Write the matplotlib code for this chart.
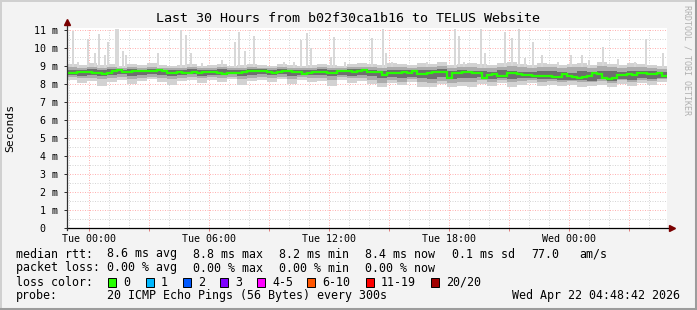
import matplotlib
matplotlib.use("Agg")
import matplotlib.pyplot as plt
import numpy as np
from matplotlib.patches import Rectangle
from matplotlib.lines import Line2D

W, H = 697, 310
MONO = "DejaVu Sans Mono"

# hours relative to Tue 00:00, one bin per 15 min for the median
t_start = -1.1
median_ms = [
    8.63, 8.63, 8.65, 8.68, 8.66, 8.63, 8.62, 8.57, 8.58, 8.72,
    8.78, 8.66, 8.68, 8.72, 8.71, 8.70, 8.69, 8.70, 8.78, 8.70,
    8.63, 8.62, 8.64, 8.63, 8.62, 8.64, 8.63, 8.66, 8.65, 8.67,
    8.62, 8.57, 8.58, 8.61, 8.63, 8.64, 8.70, 8.73, 8.71, 8.70,
    8.64, 8.62, 8.66, 8.72, 8.70, 8.66, 8.64, 8.57, 8.58, 8.64,
    8.68, 8.67, 8.63, 8.62, 8.70, 8.74, 8.72, 8.68, 8.72, 8.78,
    8.68, 8.66, 8.65, 8.50, 8.60, 8.63, 8.62, 8.64, 8.63, 8.72,
    8.56, 8.55, 8.62, 8.64, 8.68, 8.67, 8.35, 8.58, 8.60, 8.66,
    8.66, 8.59, 8.58, 8.34, 8.50, 8.52, 8.45, 8.44, 8.62, 8.63,
    8.52, 8.49, 8.50, 8.41, 8.45, 8.44, 8.43, 8.37, 8.38, 8.52,
    8.42, 8.38, 8.32, 8.36, 8.44, 8.63, 8.55, 8.30, 8.27, 8.30,
    8.50, 8.48, 8.56, 8.50, 8.58, 8.60, 8.55, 8.52, 8.58, 8.42,
]

# smoke envelopes, one bin per 30 min
outer_hi = [
    9.10, 9.05, 9.15, 9.05, 9.10, 9.00, 9.10, 9.05, 9.15, 9.05,
    9.00, 9.05, 9.10, 9.00, 9.05, 9.10, 9.00, 9.05, 9.10, 9.05,
    9.00, 9.10, 9.05, 9.00, 9.05, 9.10, 9.05, 9.00, 9.10, 9.15,
    9.10, 9.05, 9.15, 9.10, 9.05, 9.15, 9.10, 9.20, 9.05, 9.10,
    9.15, 9.10, 9.05, 9.15, 9.20, 9.10, 9.05, 9.15, 9.10, 9.05,
    9.10, 9.15, 9.05, 9.20, 9.10, 9.05, 9.15, 9.10, 9.05, 9.00,
]
outer_lo = [
    8.20, 8.05, 8.15, 7.90, 8.10, 8.20, 8.00, 8.15, 8.25, 8.10,
    7.95, 8.15, 8.20, 8.05, 8.20, 8.10, 8.25, 7.95, 8.15, 8.20,
    8.10, 8.25, 8.00, 8.20, 8.10, 8.15, 7.90, 8.20, 8.05, 8.15,
    8.00, 7.80, 8.05, 7.95, 8.10, 7.85, 7.80, 8.00, 7.80, 7.90,
    7.85, 8.00, 7.90, 8.05, 7.85, 7.95, 8.05, 7.90, 7.95, 7.90,
    7.95, 7.85, 7.90, 7.95, 7.85, 8.00, 7.90, 8.05, 7.95, 8.10,
]
mid_hi = [
    8.92, 8.90, 8.95, 8.90, 8.92, 8.88, 8.92, 8.90, 8.95, 8.90,
    8.88, 8.90, 8.92, 8.88, 8.90, 8.92, 8.88, 8.90, 8.94, 8.90,
    8.88, 8.92, 8.90, 8.88, 8.90, 8.92, 8.90, 8.88, 8.92, 8.95,
    8.92, 8.90, 8.95, 8.92, 8.90, 8.95, 8.92, 8.98, 8.90, 8.92,
    8.95, 8.90, 8.88, 8.95, 8.98, 8.92, 8.88, 8.95, 8.92, 8.88,
    8.92, 8.95, 8.88, 8.98, 8.92, 8.88, 8.95, 8.92, 8.90, 8.85,
]
mid_lo = [
    8.38, 8.30, 8.35, 8.25, 8.32, 8.38, 8.28, 8.35, 8.40, 8.32,
    8.25, 8.35, 8.38, 8.30, 8.38, 8.32, 8.40, 8.25, 8.35, 8.38,
    8.32, 8.40, 8.28, 8.38, 8.32, 8.35, 8.22, 8.38, 8.30, 8.35,
    8.20, 8.05, 8.20, 8.12, 8.25, 8.08, 8.05, 8.18, 8.05, 8.12,
    8.10, 8.20, 8.12, 8.22, 8.08, 8.15, 8.22, 8.10, 8.15, 8.12,
    8.15, 8.08, 8.12, 8.15, 8.05, 8.20, 8.10, 8.22, 8.15, 8.25,
]
core_hi = [
    8.78, 8.76, 8.80, 8.78, 8.80, 8.76, 8.80, 8.78, 8.82, 8.78,
    8.76, 8.78, 8.80, 8.76, 8.78, 8.80, 8.76, 8.78, 8.82, 8.80,
    8.76, 8.80, 8.78, 8.76, 8.78, 8.80, 8.78, 8.76, 8.80, 8.82,
    8.78, 8.72, 8.76, 8.78, 8.75, 8.78, 8.76, 8.80, 8.72, 8.75,
    8.72, 8.70, 8.68, 8.75, 8.72, 8.68, 8.66, 8.72, 8.70, 8.66,
    8.62, 8.72, 8.66, 8.74, 8.70, 8.66, 8.72, 8.70, 8.72, 8.66,
]
core_lo = [
    8.50, 8.46, 8.50, 8.44, 8.48, 8.52, 8.46, 8.50, 8.52, 8.48,
    8.44, 8.50, 8.52, 8.46, 8.50, 8.48, 8.52, 8.44, 8.50, 8.52,
    8.48, 8.52, 8.46, 8.50, 8.48, 8.50, 8.44, 8.50, 8.46, 8.50,
    8.42, 8.30, 8.38, 8.35, 8.40, 8.30, 8.28, 8.38, 8.25, 8.32,
    8.30, 8.38, 8.28, 8.35, 8.26, 8.30, 8.34, 8.26, 8.28, 8.24,
    8.22, 8.20, 8.18, 8.25, 8.15, 8.28, 8.22, 8.32, 8.28, 8.30,
]

# single high pings (hour, max rtt in ms)
spike_hours = [
    -0.80, -0.55, -0.05, 0.30, 0.50, 0.80, 0.95, 1.35, 1.45, 1.70,
    1.85, 3.45, 4.60, 4.85, 5.10, 5.65, 6.65, 7.30, 7.50, 7.80,
    8.25, 9.75, 10.25, 10.60, 10.90, 11.10, 12.10, 12.25, 12.80, 14.15,
    14.70, 14.85, 15.15, 16.90, 18.30, 18.50, 18.75, 19.60, 19.80, 20.80,
    21.15, 21.50, 21.80, 22.20, 22.65, 23.45, 24.10, 24.65, 25.00, 25.70,
    26.45, 27.30, 27.85, 28.70,
]
spike_ms = [
    10.95, 9.24, 10.48, 9.70, 10.76, 9.60, 10.30, 11.05, 11.05, 9.80,
    9.60, 9.70, 11.00, 10.70, 9.70, 9.15, 9.33, 10.30, 10.90, 9.80,
    10.63, 9.24, 9.24, 10.44, 10.80, 10.00, 9.50, 10.60, 9.24, 10.54,
    11.04, 9.70, 9.24, 9.24, 11.04, 10.63, 9.24, 11.04, 9.70, 10.90,
    10.54, 11.04, 9.43, 10.35, 9.60, 9.24, 9.60, 9.60, 9.30, 10.05,
    9.40, 9.24, 10.50, 9.70,
]

x_ticks = [0, 6, 12, 18, 24]
x_labels = ["Tue 00:00", "Tue 06:00", "Tue 12:00", "Tue 18:00", "Wed 00:00"]
y_ticks = list(range(12))
y_labels = ["0  "] + [f"{v} m" for v in range(1, 12)]

loss_labels = ["0", "1", "2", "3", "4-5", "6-10", "11-19", "20/20"]
loss_colors = ["#26ff00", "#00b8ff", "#0059ff", "#7e00ff",
               "#ff00ff", "#ff5500", "#ff0000", "#a10000"]


def fx(px):
    return px / W


def fy(py):
    return 1 - py / H


fig = plt.figure(figsize=(W / 100, H / 100), dpi=100, facecolor="#f3f3f3")
ax = fig.add_axes([fx(67), fy(228), 600 / W, 200 / H])
ax.set_facecolor("white")

med_edges = t_start + 0.25 * np.arange(len(median_ms) + 1)
band_edges = t_start + 0.5 * np.arange(len(outer_hi) + 1)

ax.stairs(outer_hi, band_edges, baseline=outer_lo, fill=True,
          color="#d2d2d2", lw=0, zorder=2)
ax.bar(spike_hours, np.array(spike_ms) - 8.9, bottom=8.9, width=0.1,
       color="#d8d8d8", lw=0, zorder=2)
ax.stairs(mid_hi, band_edges, baseline=mid_lo, fill=True,
          color="#ababab", lw=0, zorder=3)
ax.stairs(core_hi, band_edges, baseline=core_lo, fill=True,
          color="#6e6e6e", lw=0, zorder=4)
ax.stairs(median_ms, med_edges, baseline=None, color="#26ff00", lw=1.6, zorder=5)

ax.set_xlim(-1.1, 28.9)
ax.set_ylim(0, 11.1)

ax.set_xticks(np.arange(0, 29, 3))
ax.set_xticks(np.arange(-1, 29, 1), minor=True)
ax.set_xticklabels([x_labels[x_ticks.index(t)] if t in x_ticks else ""
                    for t in range(0, 29, 3)])
ax.set_yticks(y_ticks)
ax.set_yticks(np.arange(0.5, 11.1, 1.0), minor=True)
ax.set_yticklabels(y_labels)

ax.grid(which="major", color="#ff0000", alpha=0.3, lw=0.72, ls=(0, (1, 1.5)))
ax.grid(which="minor", color="#9a9a9a", alpha=0.4, lw=0.72, ls=(0, (1, 1.5)))
ax.set_axisbelow(True)

for lab in ax.get_xticklabels() + ax.get_yticklabels():
    lab.set_fontfamily(MONO)
    lab.set_fontsize(7.2)
ax.tick_params(axis="x", which="major", length=2, width=0.72, color="#e08080", pad=2)
ax.tick_params(axis="x", which="minor", length=0)
ax.tick_params(axis="y", which="major", length=2, width=0.72, color="#303030", pad=4.3)
ax.tick_params(axis="y", which="minor", length=0)
for s in ax.spines.values():
    s.set_visible(False)

# axes with arrow heads
ax.plot([0, 1.009], [0, 0], transform=ax.transAxes, color="black", lw=0.9,
        clip_on=False, zorder=6)
ax.plot([0, 0], [-0.01, 1.02], transform=ax.transAxes, color="#303030", lw=0.9,
        clip_on=False, zorder=6)
ax.plot([1.009], [0], marker=">", ms=4, color="#7a0000", transform=ax.transAxes,
        clip_on=False, zorder=7)
ax.plot([0], [1.03], marker="^", ms=4, color="#7a0000", transform=ax.transAxes,
        clip_on=False, zorder=7)

# frame
fig.add_artist(Line2D([0, 1], [fy(1), fy(1)], color="#d0d0d0", lw=1.4))
fig.add_artist(Line2D([fx(1), fx(1)], [0, 1], color="#d0d0d0", lw=1.4))
fig.add_artist(Line2D([0, 1], [fy(309), fy(309)], color="#9c9c9c", lw=2.2))
fig.add_artist(Line2D([fx(696), fx(696)], [0, 1], color="#9c9c9c", lw=2.2))

fig.text(0.5, fy(19), "Last 30 Hours from b02f30ca1b16 to TELUS Website",
         ha="center", va="center", family=MONO, size=9.6)
fig.text(fx(10), fy(128), "Seconds", rotation=90, ha="center", va="center",
         family=MONO, size=8.2)
fig.text(fx(687), fy(60), "RRDTOOL / TOBI OETIKER", rotation=-90, ha="center",
         va="center", family=MONO, size=6.0, color="#b0b0b0")


def leg(x, y, s, **kw):
    fig.text(fx(x), fy(y), s, ha=kw.pop("ha", "left"), va="center",
             family=MONO, size=8.4, **kw)


leg(16, 254, "median rtt:")
leg(107, 254, "8.6 ms avg")
leg(193, 254, "8.8 ms max")
leg(279, 254, "8.2 ms min")
leg(365, 254, "8.4 ms now")
leg(452, 254, "0.1 ms sd")
leg(531, 254, "77.0")
leg(579, 254, "am/s")

leg(16, 268, "packet loss:")
leg(107, 268, "0.00 % avg")
leg(193, 268, "0.00 % max")
leg(279, 268, "0.00 % min")
leg(365, 268, "0.00 % now")

leg(16, 282, "loss color:")
swatch_x = [108, 146, 183, 220, 257, 307, 366, 431]
for sx, lab, col in zip(swatch_x, loss_labels, loss_colors):
    fig.add_artist(Rectangle((fx(sx), fy(287)), 8 / W, 9 / H, transform=fig.transFigure,
                             facecolor=col, edgecolor="black", lw=0.7))
    leg(sx + 15, 282, lab)

leg(16, 296, "probe:")
leg(107, 296, "20 ICMP Echo Pings (56 Bytes) every 300s")
leg(680, 296, "Wed Apr 22 04:48:42 2026", ha="right")

fig.savefig("out.png", dpi=100, facecolor=fig.get_facecolor())
